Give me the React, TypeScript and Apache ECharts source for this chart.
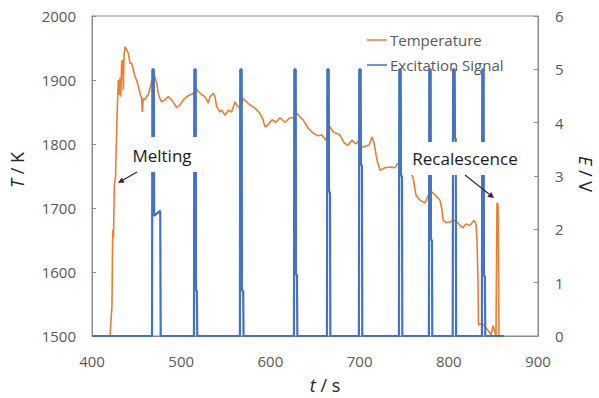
import React, { useEffect, useRef } from 'react';
import * as echarts from 'echarts';

// Temperature trace: [time (s), T (K)]
const temperature: [number, number][] = [
  [420.2, 1500], [421.3, 1525], [422.4, 1548], [423.1, 1650], [423.5, 1666], [424.1, 1653],
  [424.7, 1712], [425.2, 1739], [426.3, 1747], [427.4, 1806], [428.4, 1858], [429.5, 1900],
  [430.2, 1877], [431.4, 1903], [432.2, 1874], [433.3, 1929], [434.4, 1931], [435.1, 1884],
  [435.9, 1939], [437.0, 1952], [438.9, 1947], [440.7, 1942], [442.6, 1926], [444.5, 1926],
  [446.3, 1916], [448.2, 1905], [450.1, 1900], [451.9, 1890], [453.8, 1879], [455.7, 1871],
  [456.4, 1850], [457.5, 1871], [459.4, 1869], [461.2, 1874], [463.1, 1877], [465.0, 1887],
  [468.0, 1903], [470.6, 1905], [472.5, 1895], [474.3, 1879], [476.2, 1871], [478.1, 1866],
  [481.8, 1869], [485.5, 1874], [489.4, 1869], [493.1, 1861], [494.9, 1857], [498.7, 1861],
  [502.4, 1869], [506.2, 1874], [509.9, 1877], [513.6, 1879], [516.6, 1887], [519.2, 1882],
  [523.0, 1877], [526.7, 1874], [530.4, 1864], [532.3, 1874], [536.0, 1879], [537.9, 1874],
  [539.8, 1858], [543.5, 1850], [545.4, 1853], [549.1, 1845], [552.8, 1853], [556.6, 1850],
  [560.3, 1866], [562.2, 1861], [565.9, 1856], [569.6, 1871], [573.4, 1866], [577.1, 1861],
  [582.7, 1856], [588.3, 1848], [591.7, 1838], [593.9, 1827], [597.3, 1830], [601.8, 1838],
  [606.3, 1834], [610.8, 1841], [616.4, 1834], [622.0, 1841], [627.6, 1841], [629.8, 1848],
  [633.2, 1842], [636.5, 1838], [642.2, 1825], [647.8, 1817], [653.4, 1813], [657.8, 1814],
  [662.3, 1806], [666.8, 1827], [670.2, 1819], [673.5, 1817], [678.0, 1814], [682.5, 1802],
  [687.0, 1798], [691.5, 1806], [696.0, 1800], [699.3, 1806], [702.7, 1795], [707.2, 1797],
  [710.5, 1798], [713.9, 1811], [716.1, 1802], [719.5, 1775], [722.9, 1759], [728.5, 1763],
  [734.1, 1764], [739.7, 1763], [743.0, 1770], [746.4, 1767], [750.9, 1763], [756.5, 1756],
  [759.9, 1748], [763.2, 1720], [767.7, 1712], [773.3, 1708], [776.7, 1719], [781.2, 1725],
  [785.7, 1719], [790.1, 1712], [792.4, 1697], [793.5, 1681], [796.9, 1677], [801.3, 1678],
  [804.7, 1681], [809.2, 1678], [812.6, 1673], [815.9, 1669], [819.3, 1675], [823.8, 1673],
  [828.3, 1681], [830.5, 1675], [831.6, 1650], [832.7, 1588], [833.3, 1517], [835.0, 1519],
  [839.5, 1517], [843.9, 1509], [847.3, 1502], [849.6, 1516], [851.8, 1506], [852.9, 1500],
  [854.0, 1708], [855.2, 1705], [856.3, 1500],
];

// Excitation signal: [time (s), E (V)]
const excitation: [number, number][] = [
  [400, 0], [467.3, 0], [467.7, 5.0], [469.3, 5.0], [469.7, 2.25], [476.5, 2.35], [477, 0],
  [514.3, 0], [514.7, 5.0], [516.3, 5.0], [516.6, 0.85], [517.6, 0.85], [518, 0],
  [565.8, 0], [566.2, 5.0], [567.8, 5.0], [568.1, 0.85], [569.5, 0.85], [569.9, 0],
  [626.4, 0], [626.8, 5.0], [628.4, 5.0], [628.7, 1.15], [629.8, 1.15], [630.2, 0],
  [663.4, 0], [663.8, 5.0], [665.4, 5.0], [665.7, 2.7], [666.8, 2.7], [667.2, 0],
  [699.2, 0], [699.6, 5.0], [701.2, 5.0], [701.5, 3.2], [702.6, 3.2], [703, 0],
  [744.1, 0], [744.5, 5.0], [746.1, 5.0], [746.4, 3.0], [747.5, 3.0], [747.9, 0],
  [777.7, 0], [778.1, 5.0], [779.7, 5.0], [780, 1.8], [781.1, 1.8], [781.5, 0],
  [804.4, 0], [804.8, 5.0], [806.6, 5.0], [806.9, 3.7], [807.8, 3.7], [808.2, 0],
  [837.1, 0], [837.5, 5.0], [839.1, 5.0], [839.4, 1.12], [840.5, 1.12], [840.9, 0],
  [862, 0],
];

const seriesNames = ['Temperature', 'Excitation Signal'];

const FONT = '"Open Sans", "DejaVu Sans", sans-serif';
const GRAY = '#595959';
const AXIS = '#8c8c8c';
const ARROW = '#4d1a3b';
const ORANGE = '#ED7D31';
const BLUE = '#4472C4';
const LINE_ICON = 'path://M0,0 L20,0 L20,1.5 L0,1.5 Z';

export default function App() {
  const ref = useRef<HTMLDivElement>(null);
  useEffect(() => {
    if (!ref.current) return;
    const chart = echarts.init(ref.current, undefined, { renderer: 'svg' });
    const italicTitle = (text: string, x: number, y: number, rotation: number) => ({
      type: 'text', x, y, rotation, z: 100,
      style: {
        text, fill: '#262626', font: `18px ${FONT}`,
        textAlign: 'center', textVerticalAlign: 'middle',
        rich: { i: { fontStyle: 'italic', fontSize: 18, fontFamily: FONT, fill: '#262626' } },
      },
    });
    chart.setOption({
      animation: false,
      backgroundColor: '#ffffff',
      textStyle: { fontFamily: FONT },
      grid: {
        left: 92, right: 61, top: 16, bottom: 62,
        show: true, borderColor: AXIS, borderWidth: 1, backgroundColor: 'transparent',
      },
      legend: {
        orient: 'vertical',
        left: 362,
        top: 26,
        itemWidth: 20,
        itemHeight: 1.5,
        itemGap: 7,
        textStyle: { color: GRAY, fontSize: 15, fontFamily: FONT, lineHeight: 18, padding: [0, 0, 0, -2] },
        data: [
          { name: seriesNames[0], icon: LINE_ICON, itemStyle: { color: ORANGE } },
          { name: seriesNames[1], icon: LINE_ICON, itemStyle: { color: BLUE } },
        ],
      },
      xAxis: {
        type: 'value',
        min: 400, max: 900, interval: 100,
        axisLine: { show: true, lineStyle: { color: AXIS } },
        axisTick: { show: false },
        splitLine: { show: false },
        axisLabel: { color: GRAY, fontSize: 15, margin: 17, fontFamily: FONT, formatter: (v: number) => String(v) },
      },
      yAxis: [
        {
          type: 'value',
          min: 1500, max: 2000, interval: 100,
          axisLine: { show: true, lineStyle: { color: AXIS } },
          axisTick: { show: true, inside: true, length: 4, lineStyle: { color: AXIS } },
          splitLine: { show: false },
          axisLabel: { color: GRAY, fontSize: 15, margin: 16, fontFamily: FONT, formatter: (v: number) => String(v) },
        },
        {
          type: 'value',
          position: 'right',
          min: 0, max: 6, interval: 1,
          axisLine: { show: true, lineStyle: { color: AXIS } },
          axisTick: { show: true, inside: true, length: 4, lineStyle: { color: AXIS } },
          splitLine: { show: false },
          axisLabel: { color: GRAY, fontSize: 15, margin: 17, fontFamily: FONT, formatter: (v: number) => String(v) },
        },
      ],
      series: [
        {
          name: seriesNames[0],
          type: 'line',
          yAxisIndex: 0,
          data: temperature,
          symbol: 'none',
          showSymbol: false,
          lineStyle: { color: ORANGE, width: 1.6 },
          itemStyle: { color: ORANGE },
          z: 3,
        },
        {
          name: seriesNames[1],
          type: 'line',
          yAxisIndex: 1,
          data: excitation,
          symbol: 'none',
          showSymbol: false,
          lineStyle: { color: BLUE, width: 2.2 },
          itemStyle: { color: BLUE },
          z: 4,
        },
      ],
      graphic: [
        italicTitle('{i|T} / K', 17, 170, Math.PI / 2),
        italicTitle('{i|E} / V', 586, 174, -Math.PI / 2),
        italicTitle('{i|t} / s', 325, 385, 0),
        // Melting annotation
        { type: 'rect', z: 100, shape: { x: 125, y: 137, width: 75, height: 35 }, style: { fill: '#ffffff' } },
        {
          type: 'text', x: 162, y: 155, z: 101,
          style: { text: 'Melting', fill: '#1a1a1a', font: `17px ${FONT}`, textAlign: 'center', textVerticalAlign: 'middle' },
        },
        { type: 'line', z: 101, shape: { x1: 137, y1: 172, x2: 123, y2: 180 }, style: { stroke: ARROW, lineWidth: 1.2 } },
        { type: 'polygon', z: 101, shape: { points: [[118, 183], [121.7, 177.4], [124.7, 182.6]] }, style: { fill: ARROW } },
        // Recalescence annotation
        { type: 'rect', z: 100, shape: { x: 402, y: 142, width: 126, height: 33 }, style: { fill: '#ffffff' } },
        {
          type: 'text', x: 465, y: 158, z: 101,
          style: { text: 'Recalescence', fill: '#1a1a1a', font: `17px ${FONT}`, textAlign: 'center', textVerticalAlign: 'middle' },
        },
        { type: 'line', z: 101, shape: { x1: 465, y1: 175, x2: 489.3, y2: 194.3 }, style: { stroke: ARROW, lineWidth: 1.2 } },
        { type: 'polygon', z: 101, shape: { points: [[494, 198], [487.4, 196.7], [491.2, 191.9]] }, style: { fill: ARROW } },
      ],
    });
    return () => chart.dispose();
  }, []);
  return (
    <div
      ref={ref}
      style={{ position: 'fixed', left: 0, top: 0, width: 599, height: 398, background: '#fff' }}
    />
  );
}
